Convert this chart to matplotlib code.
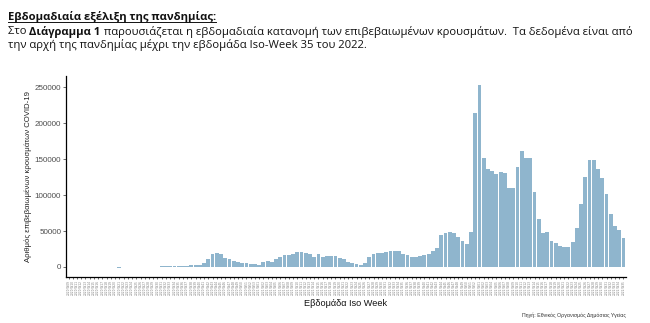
import matplotlib
matplotlib.use("Agg")
import matplotlib.pyplot as plt
from matplotlib.lines import Line2D

# weekly confirmed cases, 2020-W09 .. 2022-W35
cases_2020 = [100, 200, 300, 600, 600, 500, 500, 300, 200, 100, 100, 100, -1500,
              150, 150, 200, 200, 250, 250, 300, 350, 400, 700, 1300, 1500, 1700,
              1600, 1700, 2000, 2100, 2300, 2800, 5000, 11000, 17500, 19000, 17500,
              13000, 10600, 8300, 7000, 5100, 5100, 4600, 4200]
cases_2021 = [3200, 6500, 8300, 7400, 11600, 13900, 16200, 16200, 17500, 21300,
              20300, 19000, 17500, 14300, 18500, 13400, 15700, 15700, 15700, 12500,
              11100, 7400, 5100, 4200, 2700, 5100, 14300, 18500, 19000, 19400, 20300,
              22600, 22600, 22600, 18500, 16200, 14300, 14300, 15700, 16200, 18500,
              22200, 26400, 44400, 46700, 48500, 46700, 42000, 36000, 31500, 48500,
              214000]
cases_2022 = [254000, 152000, 137000, 134000, 130000, 132000, 131000, 110000,
              110000, 139000, 162000, 152000, 152000, 105000, 67000, 46700, 48500,
              36000, 32800, 29600, 27700, 27700, 34700, 53600, 87000, 125000, 149000,
              149000, 137000, 124000, 102000, 74000, 56900, 50900, 39800]

week_labels = ([f"2020-W{w:02d}" for w in range(9, 54)] +
               [f"2021-W{w:02d}" for w in range(1, 53)] +
               [f"2022-W{w:02d}" for w in range(1, 36)])
cases = cases_2020 + cases_2021 + cases_2022

y_ticks = [0, 50000, 100000, 150000, 200000, 250000]

title = "Εβδομαδιαία εξέλιξη της πανδημίας:"
line2 = [("Στο ", "normal"), ("Διάγραμμα 1", "bold"),
         (" παρουσιάζεται η εβδομαδιαία κατανομή των επιβεβαιωμένων κρουσμάτων.  "
          "Τα δεδομένα είναι από", "normal")]
line3 = "την αρχή της πανδημίας μέχρι την εβδομάδα Iso-Week 35 του 2022."

head_font = ["Open Sans", "DejaVu Sans"]
ink = "#111111"

fig = plt.figure(figsize=(6.5, 3.23), dpi=100)
ax = fig.add_axes([66 / 650, 1 - 277 / 323, 560 / 650, 201 / 323])

x = list(range(len(cases)))
ax.bar(x, cases, width=0.9, color="#8fb5cd", edgecolor="none")

ax.set_xlim(-0.6, len(cases) - 0.4)
ax.set_ylim(-14000, 266000)
ax.set_yticks(y_ticks)
ax.set_yticklabels([str(v) for v in y_ticks], fontsize=5.8, color="#4d4d4d",
                   family=["Liberation Sans", "DejaVu Sans"])
ax.set_xticks(x)
ax.set_xticklabels(week_labels, rotation=90, fontsize=2.1, color="#7a7a7a")
ax.tick_params(axis="both", length=2, width=0.5, color="#333333", pad=1.5)
ax.tick_params(axis="x", length=1.5, pad=1)
for s in ["top", "right"]:
    ax.spines[s].set_visible(False)
for s in ["left", "bottom"]:
    ax.spines[s].set_linewidth(0.9)

ax.set_ylabel("Αριθμός επιβεβαιωμένων κρουσμάτων COVID-19", fontsize=5.6,
              color="#222222", family=["Liberation Sans", "DejaVu Sans"], labelpad=2)
fig.text(346 / 650, 1 - 304 / 323, "Εβδομάδα Iso Week", ha="center", va="center",
         fontsize=6.6, color="#111111", family=["Liberation Sans", "DejaVu Sans"])
fig.text(626 / 650, 1 - 315 / 323, "Πηγή: Εθνικός Οργανισμός Δημόσιας Υγείας",
         ha="right", va="center", fontsize=3.8, color="#333333",
         family=["Liberation Sans", "DejaVu Sans"])

# header text: size chosen so that line 2 spans x = 8..631 px like the reference
fig.canvas.draw()
r = fig.canvas.get_renderer()
probe = 0
for txt, wt in line2:
    t = fig.text(0, 0, txt, fontsize=8, weight=wt, family=head_font)
    probe += t.get_window_extent(r).width
    t.remove()
head_size = 8 * 623 / probe

t1 = fig.text(8 / 650, 1 - 20 / 323, title, fontsize=head_size, weight="bold",
              family=head_font, color=ink, va="baseline")
bb = t1.get_window_extent(r)
fig.add_artist(Line2D([bb.x0 / 650, bb.x1 / 650], [1 - 22 / 323] * 2,
                      transform=fig.transFigure, color=ink, lw=0.7))

xpos = 8
for txt, wt in line2:
    t = fig.text(xpos / 650, 1 - 34.5 / 323, txt, fontsize=head_size, weight=wt,
                 family=head_font, color=ink, va="baseline")
    xpos = t.get_window_extent(r).x1
fig.text(8 / 650, 1 - 48 / 323, line3, fontsize=head_size, family=head_font,
         color=ink, va="baseline")

fig.savefig("out.png", dpi=100)
